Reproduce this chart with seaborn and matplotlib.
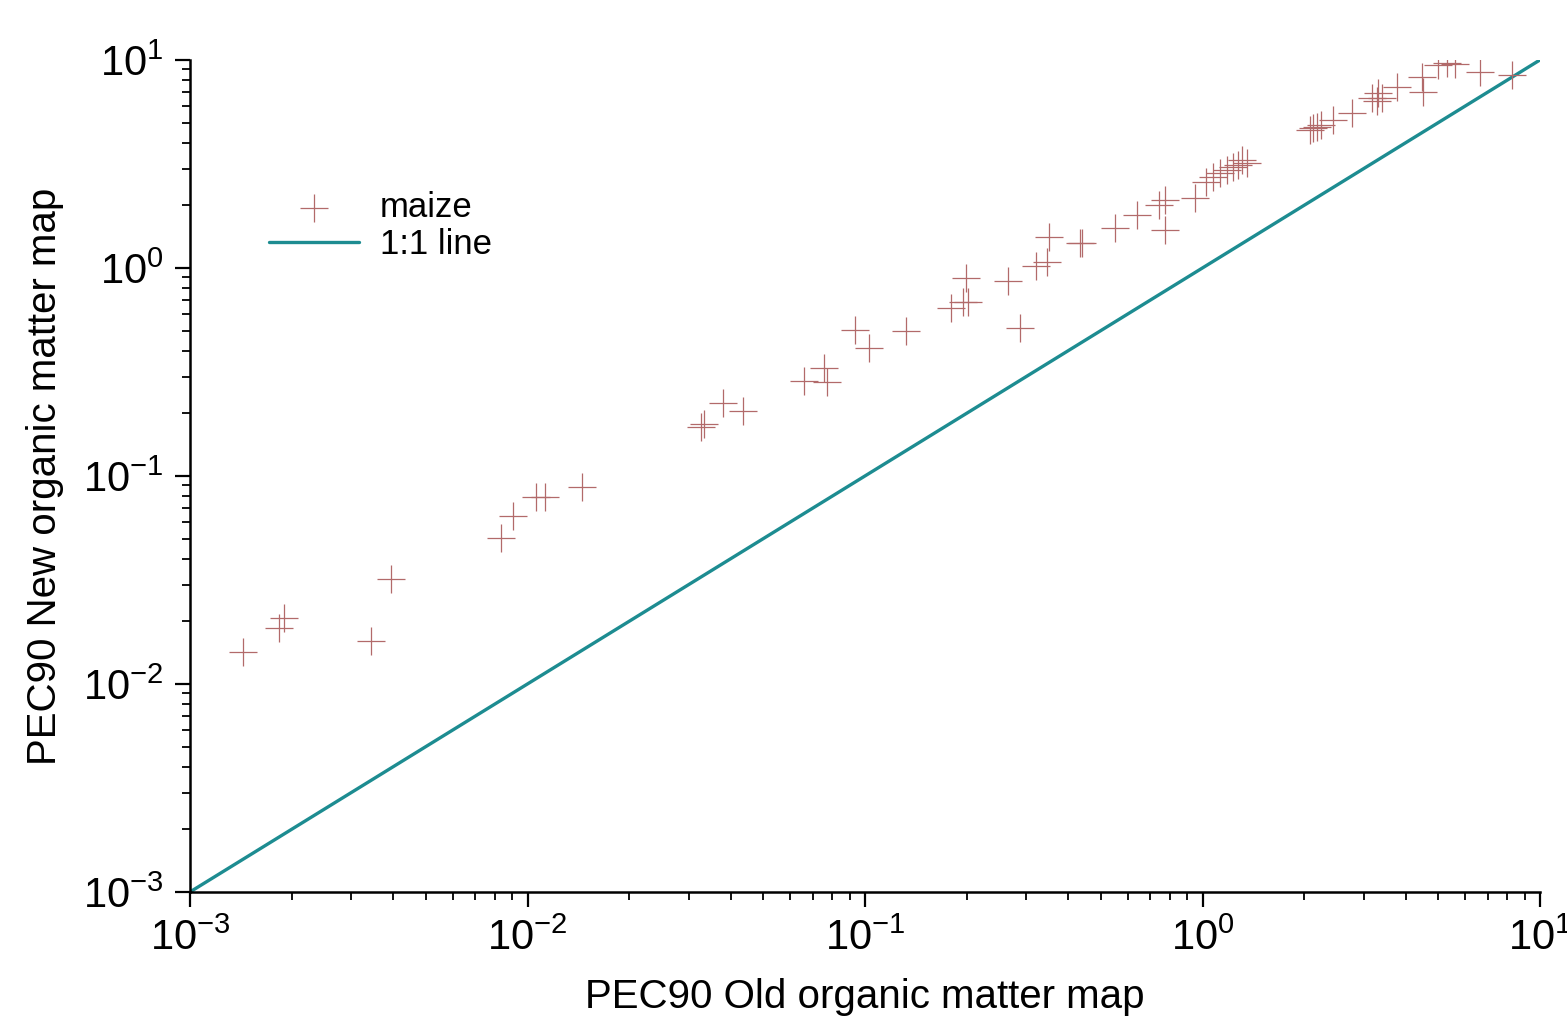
#PEC90 comparison: new vs old organic matter map (maize)

import numpy as np
import pandas as pd
import matplotlib
matplotlib.use('Agg')
import matplotlib.pyplot as plt
import seaborn as sns
from matplotlib.ticker import LogLocator

# values
pec_old = [0.00143, 0.00184, 0.00190, 0.00343, 0.00394,
           0.00833, 0.00903, 0.01059, 0.01127, 0.01447,
           0.0326, 0.0333, 0.0380, 0.0436, 0.0659, 0.0756, 0.0770,
           0.0933, 0.103, 0.132, 0.1795, 0.1945, 0.2022, 0.199, 0.2648,
           0.288, 0.321, 0.345, 0.351, 0.433, 0.440, 0.551, 0.641,
           0.774, 0.741, 0.774, 0.950, 1.024, 1.076, 1.127, 1.178,
           1.234, 1.277, 1.307, 1.35, 2.084, 2.13, 2.18, 2.25, 2.44,
           2.77, 3.17, 3.28, 3.32, 3.40, 3.76, 4.46, 4.51, 5.00, 5.29,
           5.60, 6.64, 8.24]
pec_new = [0.01426, 0.0186, 0.0207, 0.0161, 0.0320,
           0.0505, 0.0642, 0.0791, 0.0795, 0.0886,
           0.171, 0.178, 0.2234, 0.2060, 0.287, 0.3296, 0.2840,
           0.5035, 0.411, 0.498, 0.640, 0.688, 0.688, 0.891, 0.866,
           0.516, 1.022, 1.072, 1.414, 1.315, 1.315, 1.553, 1.798,
           1.523, 2.01, 2.12, 2.16, 2.60, 2.75, 2.85, 2.96,
           3.07, 3.13, 3.31, 3.21, 4.61, 4.70, 4.75, 4.87, 5.15,
           5.54, 6.54, 6.31, 6.92, 6.54, 7.44, 8.31, 7.04, 9.46, 9.64,
           9.57, 8.79, 8.47]
line_x = [0.001, 10]
line_y = [0.001, 10]

sns.set_style('ticks')
plt.rcParams['font.family'] = ['Liberation Sans', 'DejaVu Sans']
plt.rcParams['mathtext.fontset'] = 'custom'
plt.rcParams['mathtext.rm'] = 'Liberation Sans'
plt.rcParams['mathtext.it'] = 'Liberation Sans:italic'
plt.rcParams['mathtext.bf'] = 'Liberation Sans:bold'
plt.rcParams['text.color'] = 'black'
plt.rcParams['axes.labelcolor'] = 'black'
plt.rcParams['xtick.color'] = 'black'
plt.rcParams['ytick.color'] = 'black'

df = pd.DataFrame({'old': pec_old, 'new': pec_new})

fig = plt.figure(figsize=(15.67, 10.24), dpi=100)
ax = fig.add_axes([0.1213, 0.129, 0.8615, 0.8125])

ax.set_xscale('log')
ax.set_yscale('log')

sns.scatterplot(data=df, x='old', y='new', ax=ax, marker='+', s=420,
                color='#b26a6a', linewidth=0.9, label='maize', zorder=3)
sns.lineplot(x=line_x, y=line_y, ax=ax, color='#1d8c91', linewidth=2.4,
             label='1:1 line', zorder=2)

ax.set_xlim(1e-3, 10)
ax.set_ylim(1e-3, 10)
ax.xaxis.set_major_locator(LogLocator(base=10, numticks=10))
ax.yaxis.set_major_locator(LogLocator(base=10, numticks=10))
ax.xaxis.set_minor_locator(LogLocator(base=10, subs=np.arange(2, 10), numticks=20))
ax.yaxis.set_minor_locator(LogLocator(base=10, subs=np.arange(2, 10), numticks=20))

sns.despine(ax=ax)
for s in ['left', 'bottom']:
    ax.spines[s].set_linewidth(1.8)
    ax.spines[s].set_color('black')
ax.tick_params(which='major', length=11, width=1.6, labelsize=30, direction='out', pad=8)
ax.tick_params(which='minor', length=6, width=1.3, direction='out')

ax.set_xlabel('PEC90 Old organic matter map', fontsize=29, labelpad=14)
ax.set_ylabel('PEC90 New organic matter map', fontsize=29, labelpad=14)

ax.legend(loc='upper left', bbox_to_anchor=(0.035, 0.88), frameon=False,
          fontsize=25, handlelength=2.6, handletextpad=0.6, labelspacing=0.12)

fig.savefig('out.png', dpi=100)
plt.close(fig)
